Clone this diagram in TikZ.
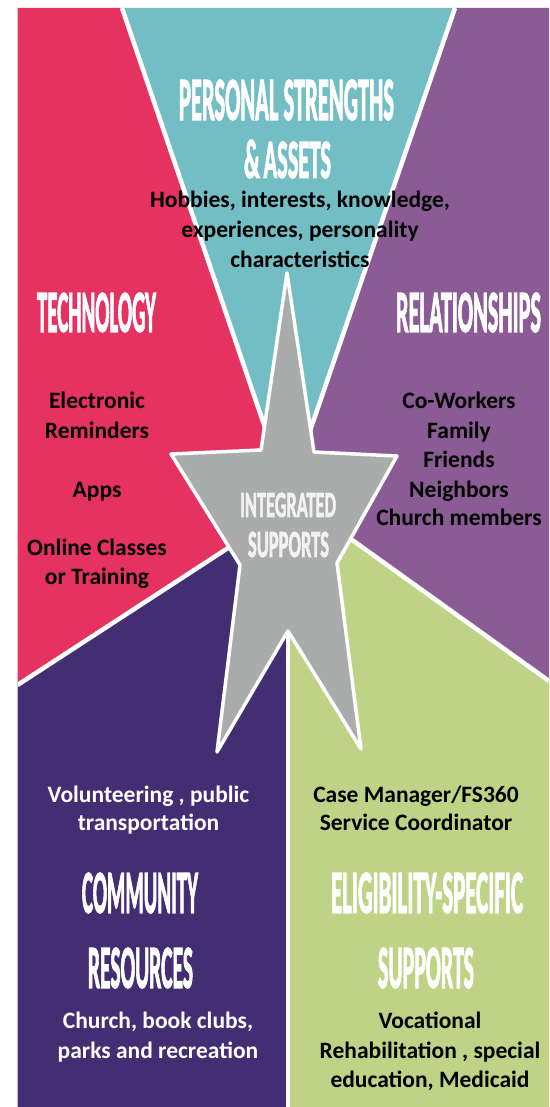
\documentclass[tikz,border=0pt]{standalone}
\usepackage{fontspec}
\setmainfont{Carlito}
\newfontfamily\ttlfont{Carlito}[UprightFont=* Bold, FakeBold=2.5]
\usepackage{graphicx}
\definecolor{cpink}{HTML}{E53260}
\definecolor{cteal}{HTML}{72BEC4}
\definecolor{cpurple}{HTML}{8B5B96}
\definecolor{cdark}{HTML}{432E73}
\definecolor{cgreen}{HTML}{BED385}
\definecolor{cstar}{HTML}{AAABAB}
\definecolor{cstartext}{HTML}{F2F2F2}
\newcommand{\ttl}[3]{\resizebox{#1pt}{#2pt}{\ttlfont #3}}
\tikzset{
  body/.style={font=\fontsize{23.5}{28}\selectfont\bfseries, anchor=base, inner sep=0pt, text=black},
  bodyw/.style={body, text=white},
  title/.style={inner sep=0pt, text=white},
  sepline/.style={draw=white, line width=4.5pt},
  starshape/.style={fill=cstar, draw=white, line width=3.5pt, line join=round}
}
\begin{document}
\begin{tikzpicture}[x=1pt,y=-1pt]
\fill[white] (0,0) rectangle (549,1107);
\useasboundingbox (0,0) rectangle (549,1107);
% key points
\coordinate (tl) at (17.5,8);
\coordinate (tr) at (549,8);
\coordinate (bl) at (17.5,1107);
\coordinate (br) at (549,1107);
\coordinate (ta) at (122,8);
\coordinate (tb) at (455,8);
\coordinate (apex) at (288,495);
\coordinate (lc) at (288,509);
\coordinate (rc) at (288,494);
\coordinate (le) at (17.5,685);
\coordinate (re) at (549,681);
\coordinate (vb) at (288,1107);
\begin{scope}
\clip (tl) rectangle (br);
\fill[cpink] (tl) -- (ta) -- (apex) -- (lc) -- (le) -- cycle;
\fill[cteal] (ta) -- (tb) -- (apex) -- cycle;
\fill[cpurple] (tb) -- (tr) -- (re) -- (rc) -- (apex) -- cycle;
\fill[cdark] (le) -- (lc) -- (288,620) -- (vb) -- (bl) -- cycle;
\fill[cgreen] (rc) -- (re) -- (br) -- (vb) -- (288,620) -- cycle;
\draw[sepline] (ta) -- (apex);
\draw[sepline] (tb) -- (apex);
\draw[sepline] (le) -- (lc);
\draw[sepline] (re) -- (rc);
\end{scope}
% star
\coordinate (s1) at (287,273);
\coordinate (s2) at (314,452);
\coordinate (s3) at (397,456);
\coordinate (s4) at (337,563);
\coordinate (s5) at (361,749);
\coordinate (s6) at (288,631);
\coordinate (s7) at (217,752);
\coordinate (s8) at (240,565);
\coordinate (s9) at (171,454);
\coordinate (s10) at (261,450);
\draw[sepline, line width=3.5pt] (s6) -- (vb);
\draw[starshape] (s1) -- (s2) -- (s3) -- (s4) -- (s5) -- (s6) -- (s7) -- (s8) -- (s9) -- (s10) -- cycle;
% titles
\node[title] (tps) at (286.5,100) {\ttl{215}{40}{PERSONAL STRENGTHS}};
\node[title] (tas) at (287.5,159) {\ttl{87}{38}{\&\,ASSETS}};
\node[title] (tte) at (96.5,312.5) {\ttl{119}{39}{TECHNOLOGY}};
\node[title] (tre) at (468.5,312.5) {\ttl{145}{39}{RELATIONSHIPS}};
\node[title, text=cstartext] (tin) at (288,505) {\ttl{96}{24}{INTEGRATED}};
\node[title, text=cstartext] (tsu) at (288.5,544.5) {\ttl{81}{25}{SUPPORTS}};
\node[title] (tco) at (140,893) {\ttl{116}{40}{COMMUNITY}};
\node[title] (tro) at (140.5,968) {\ttl{105}{40}{RESOURCES}};
\node[title] (tel) at (427,893) {\ttl{192}{40}{ELIGIBILITY-SPECIFIC}};
\node[title] (tsp) at (426,968) {\ttl{96}{40}{SUPPORTS}};
% body texts
\node[body] (h1) at (300,208) {Hobbies, interests, knowledge,};
\node[body] (h2) at (300,237) {experiences, personality};
\node[body] (h3) at (300,267) {characteristics};
\node[body] (e1) at (97,408) {Electronic};
\node[body] (e2) at (97,438) {Reminders};
\node[body] (e3) at (97,497) {Apps};
\node[body] (e4) at (97,555) {Online Classes};
\node[body] (e5) at (97,584) {or Training};
\node[body] (r1) at (459,408) {Co-Workers};
\node[body] (r2) at (459,438) {Family};
\node[body] (r3) at (459,467) {Friends};
\node[body] (r4) at (459,497) {Neighbors};
\node[body] (r5) at (459,525) {Church members};
\node[bodyw] (v1) at (148.5,802) {Volunteering , public};
\node[bodyw] (v2) at (148.5,830) {transportation};
\node[body] (c1) at (416,802) {Case Manager/FS360};
\node[body] (c2) at (416,830) {Service Coordinator};
\node[bodyw] (k1) at (158,1028) {Church, book clubs,};
\node[bodyw] (k2) at (158,1058) {parks and recreation};
\node[body] (m1) at (430,1028) {Vocational};
\node[body] (m2) at (430,1058) {Rehabilitation , special};
\node[body] (m3) at (430,1087) {education, Medicaid};
\end{tikzpicture}
\end{document}
